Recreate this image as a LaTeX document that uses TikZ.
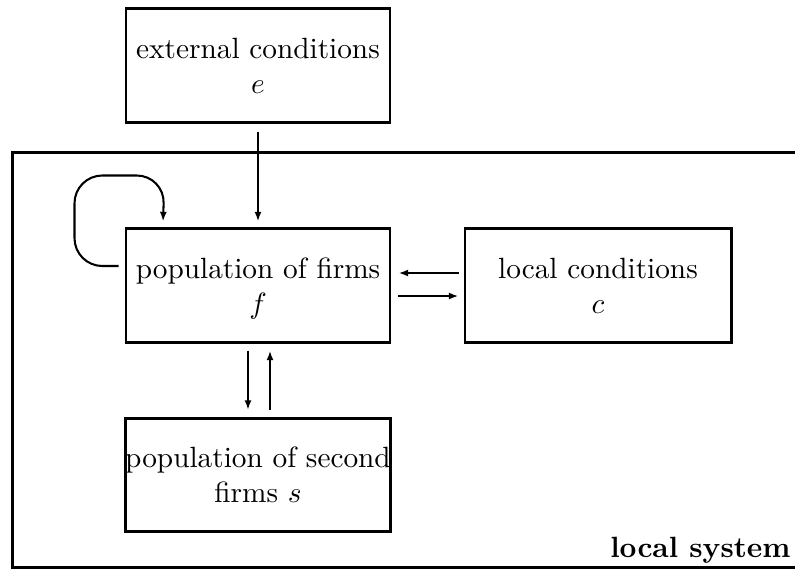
\documentclass[tikz,border=0pt]{standalone}
\usetikzlibrary{arrows.meta,calc}
\begin{document}
\begin{tikzpicture}[x=0.3413pt,y=-0.3413pt,
  box/.style={draw,line width=1pt,align=center,inner xsep=0pt,inner ysep=2pt,
    minimum width=90.1pt,minimum height=38.6pt,text depth=0pt},
  arr/.style={line width=0.7pt,-{Latex[length=3.3pt,width=2.4pt]}},
  frame/.style={line width=1pt}]
\useasboundingbox (0,0) rectangle (795,570);
\node[box] (e) at (258,65.5) {external conditions\\$e$};
\node[box] (f) at (258,285.5) {population of firms\\$f$};
\node[box,minimum width=90.8pt] (c) at (598,285.5) {local conditions\\$c$};
\node[box] (s) at (258,475) {population of second\\firms $s$};
\draw[frame] (795,152.5) -- (12.5,152.5) -- (12.5,567.5) -- (795,567.5);
\node[anchor=base east,font=\bfseries,inner sep=0pt] (ls) at (791,557) {local system};
% e -> f
\draw[arr] ($(e.south)+(0,8)$) -- ($(f.north)+(0,-6)$);
% f <-> c
\draw[arr] ($(c.west)+(-5,-12.5)$) -- ($(f.east)+(7,-12.5)$);
\draw[arr] ($(f.east)+(7,10.5)$) -- ($(c.west)+(-5,10.5)$);
% f <-> s
\draw[arr,line width=1pt] ($(f.south)+(-10,7)$) -- ($(s.north)+(-10,-7)$);
\draw[arr] ($(s.north)+(12,-7)$) -- ($(f.south)+(12,7)$);
% loop
\draw[arr,rounded corners=9.5pt] ($(f.west)+(-6,-19.5)$) -- (74.5,266) -- (74.5,175.5) -- (164.5,175.5) -- ($(f.north west)+(38.5,-6)$);
\end{tikzpicture}
\end{document}
